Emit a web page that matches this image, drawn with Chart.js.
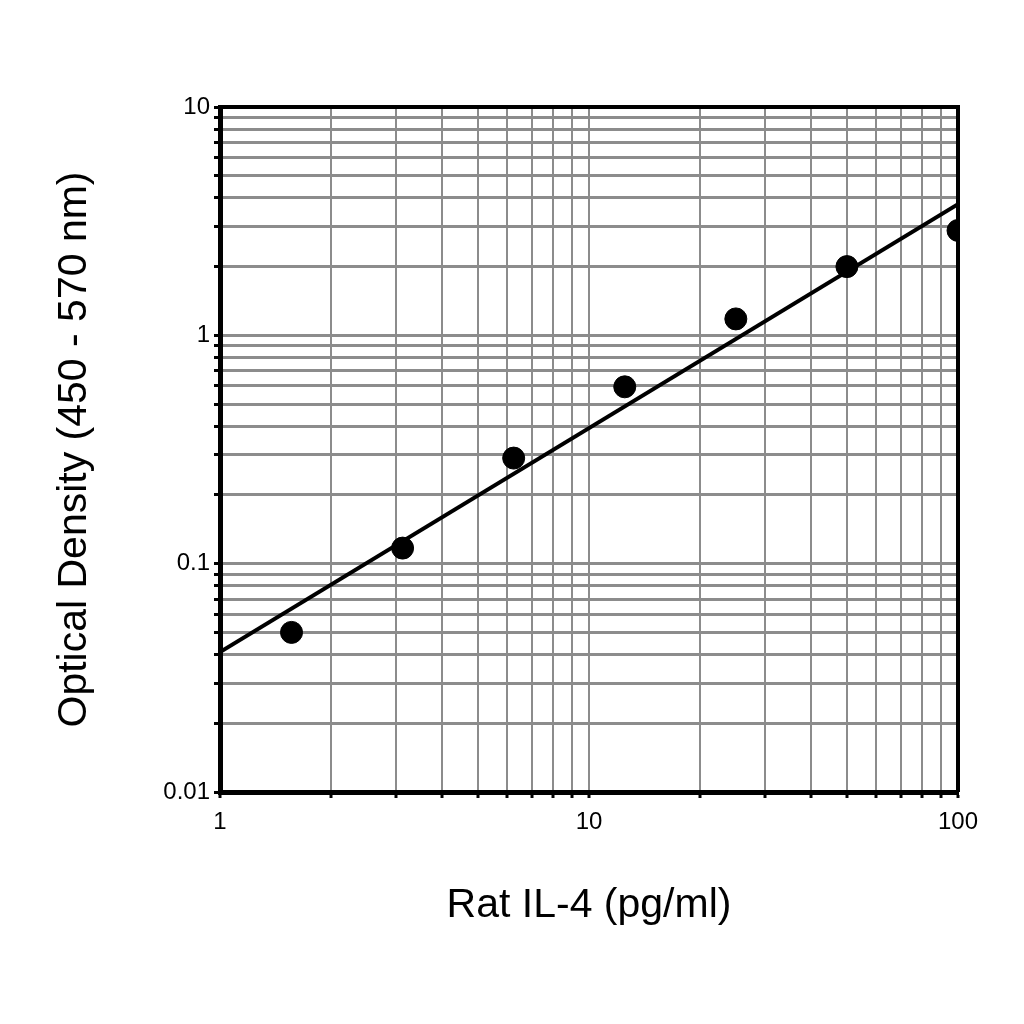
<!DOCTYPE html>
<html>
<head>
<meta charset="utf-8">
<script src="https://cdn.jsdelivr.net/npm/chart.js@4.4.0/dist/chart.umd.min.js"></script>
<style>
  body { margin: 0; background: #fff; }
  canvas { display: block; }
</style>
</head>
<body>
<canvas id="myChart" width="1024" height="1024"></canvas>
<script>
// standard curve, Rat IL-4
var concentrations = [1.5625, 3.125, 6.25, 12.5, 25, 50, 100];
var opticalDensity = [0.050, 0.117, 0.29, 0.595, 1.18, 2.0, 2.88];
var fitX = [1, 100];
var fitY = [0.041, 3.75];

var xTicks = [1, 2, 3, 4, 5, 6, 7, 8, 9, 10, 20, 30, 40, 50, 60, 70, 80, 90, 100];
var xLabels = {1: '1', 10: '10', 100: '100'};
var yTicks = [0.01, 0.02, 0.03, 0.04, 0.05, 0.06, 0.07, 0.08, 0.09,
  0.1, 0.2, 0.3, 0.4, 0.5, 0.6, 0.7, 0.8, 0.9,
  1, 2, 3, 4, 5, 6, 7, 8, 9, 10];
var yLabels = {0.01: '0.01', 0.1: '0.1', 1: '1', 10: '10'};

var gridGrey = '#8c8c8c';
var tickFont = { family: '"Liberation Sans Narrow", "Liberation Sans", Arial', size: 24 };
var titleFont = { family: '"Liberation Sans", Arial', size: 41 };

// top and right edges of the frame
var framePlugin = {
  id: 'frame',
  afterDatasetsDraw: function(chart) {
    var a = chart.chartArea, c = chart.ctx;
    c.save();
    c.strokeStyle = '#000';
    c.lineWidth = 4;
    c.beginPath();
    c.moveTo(a.left, a.top);
    c.lineTo(a.right, a.top);
    c.lineTo(a.right, a.bottom);
    c.stroke();
    c.restore();
  }
};

var ctx = document.getElementById('myChart').getContext('2d');
var chart = new Chart(ctx, {
  type: 'scatter',
  data: {
    datasets: [{
      label: 'fit',
      data: fitX.map(function(x, i) { return {x: x, y: fitY[i]}; }),
      showLine: true,
      borderColor: '#000',
      borderWidth: 4,
      pointRadius: 0,
      order: 2
    },
    {
      label: 'standards',
      data: concentrations.map(function(x, i) { return {x: x, y: opticalDensity[i]}; }),
      backgroundColor: '#000',
      borderColor: '#000',
      pointRadius: 11,
      order: 1
    }]
  },
  plugins: [framePlugin],
  options: {
    responsive: false,
    animation: false,
    layout: { padding: { left: 0, top: 107, right: 66, bottom: 0 } },
    plugins: {
      legend: { display: false },
      tooltip: { enabled: false }
    },
    scales: {
      x: {
        type: 'logarithmic',
        min: 1,
        max: 100,
        afterBuildTicks: function(s) { s.ticks = xTicks.map(function(v) { return {value: v}; }); },
        afterFit: function(s) { s.height = 232; },
        border: { color: '#000', width: 5 },
        grid: {
          color: gridGrey,
          lineWidth: 2,
          tickColor: '#000',
          tickLength: 6,
          tickWidth: 3
        },
        ticks: {
          color: '#000',
          font: tickFont,
          padding: 10,
          maxRotation: 0,
          autoSkip: false,
          callback: function(v) { return xLabels[v] || ''; }
        },
        title: {
          display: true,
          text: 'Rat IL-4 (pg/ml)',
          color: '#000',
          font: titleFont,
          padding: { top: 0, bottom: 94 }
        }
      },
      y: {
        type: 'logarithmic',
        min: 0.01,
        max: 10,
        afterBuildTicks: function(s) { s.ticks = yTicks.map(function(v) { return {value: v}; }); },
        afterFit: function(s) { s.width = 220; },
        border: { color: '#000', width: 5 },
        grid: {
          color: gridGrey,
          lineWidth: 3,
          tickColor: '#000',
          tickLength: 6,
          tickWidth: 3
        },
        ticks: {
          color: '#000',
          font: tickFont,
          padding: 4,
          autoSkip: false,
          callback: function(v) { return yLabels[v] || ''; }
        },
        title: {
          display: true,
          text: 'Optical Density (450 - 570 nm)',
          color: '#000',
          font: titleFont,
          padding: { top: 50, bottom: 0 }
        }
      }
    }
  }
});
</script>
</body>
</html>
